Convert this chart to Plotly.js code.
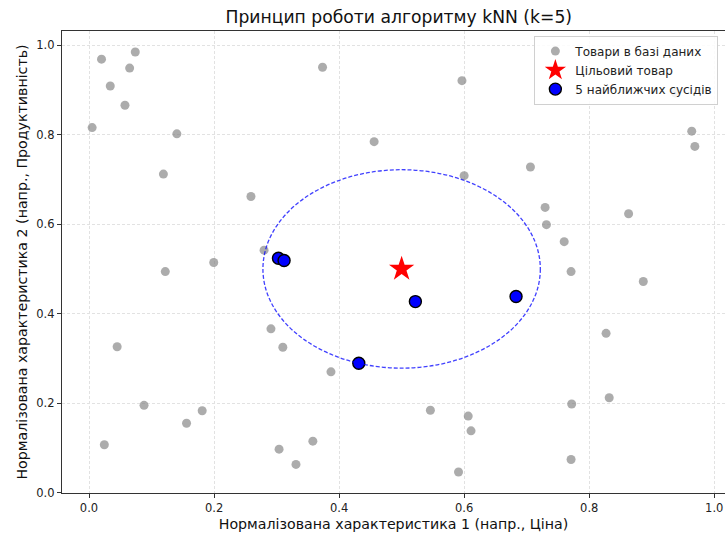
<!DOCTYPE html>
<html><head><meta charset="utf-8">
<script src="https://cdn.plot.ly/plotly-3.0.1.min.js"></script>
<style>html,body{margin:0;padding:0;background:#fff}#chart{width:725px;height:533px}</style>
</head><body><div id="chart"></div>
<script>
// Database items (gray points)
const dbX = [0.020,0.074,0.065,0.034,0.0575,0.005,0.1405,0.119,0.259,0.3735,0.5965,0.456,0.600,0.938,0.964,0.969,0.706,
  0.280,0.1995,0.122,0.291,0.045,0.310,0.7295,0.7316,0.863,0.760,0.771,0.8865,0.827,0.088,0.0245,0.156,0.181,0.304,
  0.387,0.358,0.331,0.546,0.6065,0.611,0.591,0.772,0.832,0.771,
  0.303,0.312,0.522,0.683,0.4315];
const dbY = [0.969,0.985,0.949,0.909,0.866,0.816,0.802,0.712,0.662,0.951,0.921,0.7845,0.7085,0.893,0.808,0.774,0.728,
  0.542,0.5145,0.494,0.366,0.326,0.325,0.6376,0.599,0.6234,0.561,0.494,0.472,0.356,0.195,0.107,0.155,0.183,0.097,
  0.270,0.115,0.063,0.184,0.171,0.138,0.046,0.198,0.212,0.074,
  0.524,0.519,0.427,0.4385,0.289];
// Target item
const targetX = [0.5];
const targetY = [0.5];
// 5 nearest neighbours
const nnX = [0.303,0.312,0.522,0.683,0.4315];
const nnY = [0.524,0.519,0.427,0.4385,0.289];

const xTicks = [0.0,0.2,0.4,0.6,0.8,1.0];
const yTicks = [0.0,0.2,0.4,0.6,0.8,1.0];

const radius = Math.max(...nnX.map((x,i)=>Math.hypot(x-targetX[0], nnY[i]-targetY[0])));

function autoRange(arr){const mn=Math.min(...arr), mx=Math.max(...arr), m=(mx-mn)*0.05; return [mn-m, mx+m];}

const font = "DejaVu Sans, sans-serif";
const traces = [
  {type:'scatter', mode:'markers', x:dbX, y:dbY, name:'Товари в базі даних',
   marker:{color:'gray', opacity:0.65, size:9}, hoverinfo:'skip'},
  {type:'scatter', mode:'markers', x:targetX, y:targetY, name:'Цільовий товар',
   marker:{color:'red', symbol:'star', size:19}},
  {type:'scatter', mode:'markers', x:nnX, y:nnY, name:'5 найближчих сусідів',
   marker:{color:'blue', size:12, line:{color:'black', width:1.4}}}
];

const axCommon = {
  showline:true, mirror:true, linecolor:'#333', linewidth:1.2,
  ticks:'outside', ticklen:4, tickcolor:'#333', tickwidth:1,
  showgrid:true, gridcolor:'#e2e2e2', griddash:'3px,2px', gridwidth:1,
  zeroline:false, tickformat:'.1f', tickfont:{family:font, size:11.5, color:'#222'},
  tickmode:'array'
};

const layout = {
  width:725, height:533,
  margin:{l:62, r:0, t:31, b:40},
  paper_bgcolor:'#fff', plot_bgcolor:'#fff',
  title:{text:'Принцип роботи алгоритму kNN (k=5)', font:{family:font, size:17.2, color:'#111'},
         x:0.55, xanchor:'center', y:0.968, yanchor:'middle'},
  xaxis:Object.assign({}, axCommon, {range:autoRange(dbX), tickvals:xTicks,
    title:{text:'Нормалізована характеристика 1 (напр., Ціна)', font:{family:font, size:14.2, color:'#111'}, standoff:5}}),
  yaxis:Object.assign({}, axCommon, {range:autoRange(dbY), tickvals:yTicks,
    title:{text:'Нормалізована характеристика 2 (напр., Продуктивність)', font:{family:font, size:14.2, color:'#111'}, standoff:5}}),
  legend:{x:0.99, xanchor:'right', y:0.99, yanchor:'top', bgcolor:'rgba(255,255,255,0.85)',
    bordercolor:'#d0d0d0', borderwidth:1, font:{family:font, size:12, color:'#222'},
    itemwidth:30, tracegroupgap:0},
  shapes:[{type:'circle', xref:'x', yref:'y',
    x0:targetX[0]-radius, x1:targetX[0]+radius, y0:targetY[0]-radius, y1:targetY[0]+radius,
    line:{color:'rgba(0,0,255,0.75)', width:1.3, dash:'4px,2px'}, fillcolor:'rgba(0,0,0,0)', layer:'above'}],
  showlegend:true
};

Plotly.newPlot('chart', traces, layout, {displayModeBar:false, staticPlot:true});
</script>
</body></html>
